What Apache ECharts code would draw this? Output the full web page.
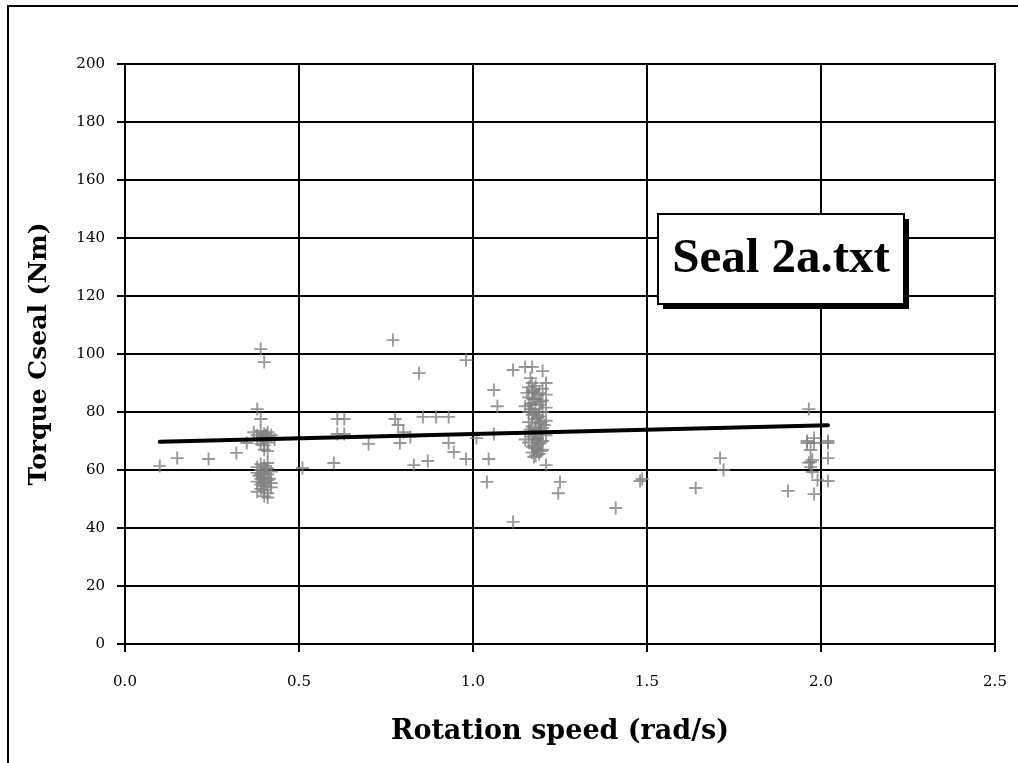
<!DOCTYPE html>
<html>
<head>
<meta charset="utf-8">
<script src="https://cdn.jsdelivr.net/npm/echarts@6/dist/echarts.min.js"></script>
<style>html,body{margin:0;padding:0;background:#fff}#c{width:1018px;height:763px}</style>
</head>
<body>
<div id="c"></div>
<script>
// Measured points: rotation speed (rad/s) and torque Cseal (Nm)
var speed = [
 0.10,0.15,0.24,0.32,0.35,
 0.39,0.40,0.38,0.39,0.37,0.38,0.39,0.40,0.41,0.42,0.38,0.39,0.40,0.41,0.43,0.39,0.40,0.41,0.40,0.41,
 0.41,0.39,0.40,0.38,0.41,0.39,0.40,0.42,0.38,0.39,0.41,0.40,0.39,0.41,0.40,0.38,0.42,0.39,0.40,0.42,
 0.39,0.40,0.38,0.41,0.40,0.41,0.395,0.405,0.385,0.395,0.405,0.415,
 0.51,0.60,0.61,0.63,0.61,0.63,0.70,0.77,0.776,0.785,0.79,0.80,0.82,0.83,0.845,0.856,0.87,0.894,0.93,0.93,
 0.945,0.98,0.98,1.01,1.04,1.045,1.06,1.06,1.07,1.115,1.115,
 1.15,1.17,1.20,1.165,1.17,1.155,
 1.16,1.18,1.20,1.17,1.19,1.21,1.16,1.18,1.20,1.17,1.19,1.15,1.21,1.18,1.16,1.20,1.17,1.19,1.18,1.21,
 1.16,1.19,1.17,1.20,1.18,1.16,1.19,1.21,1.17,1.18,1.20,1.16,1.19,1.17,1.18,1.20,1.17,1.19,1.18,1.175,
 1.15,1.21,
 1.175,1.185,1.195,1.165,1.175,1.185,1.195,1.205,1.165,1.175,1.185,1.195,1.175,1.185,1.195,1.165,1.185,1.175,1.195,1.185,
 1.21,1.25,1.245,
 1.41,1.48,1.486,1.64,1.71,1.72,1.905,
 1.965,1.96,1.98,1.96,1.98,2.02,2.02,1.97,1.97,1.975,1.965,2.02,1.975,1.99,2.02,1.98,1.97
];
var torque = [
 61.4,64.1,63.8,65.9,69.3,
 101.7,97.2,81.0,77.6,73.0,72.0,73.5,72.5,73.0,72.0,70.5,71.0,70.0,71.5,70.5,69.0,68.5,69.5,67.0,66.5,
 62.4,62.0,61.5,61.0,60.5,60.0,59.5,59.5,59.0,58.5,58.5,57.5,57.0,56.5,56.0,56.0,55.5,55.0,54.5,54.0,
 53.5,53.0,52.5,52.0,51.0,50.5,71.5,72.0,58.0,55.5,60.5,57.0,
 60.7,62.4,77.6,77.6,72.4,72.4,69.0,104.8,77.6,75.5,69.3,73.0,71.4,61.7,93.4,78.3,63.1,78.3,78.3,69.3,
 66.2,63.8,97.9,71.0,55.9,63.8,72.4,87.6,82.0,42.1,94.5,
 95.5,95.5,94.1,91.7,90.0,86.6,
 88.5,89.0,88.0,87.0,86.5,86.0,85.0,84.5,84.0,83.0,82.5,82.0,81.5,81.0,80.0,80.0,79.0,78.5,77.5,77.0,
 76.5,76.0,75.0,74.5,74.0,73.0,72.5,72.0,71.5,70.5,70.0,69.5,69.0,68.0,67.5,67.0,66.0,65.5,65.0,64.5,
 70.5,90.0,
 87.5,86.0,83.5,81.0,79.5,78.0,76.5,75.5,74.0,72.5,71.0,69.5,68.5,67.0,66.5,82.5,79.0,84.5,73.5,70.5,
 61.7,55.9,52.0,
 46.9,56.2,56.9,53.8,64.1,60.0,52.8,
 81.0,70.0,71.0,69.3,69.3,70.0,69.3,66.9,62.8,63.5,62.5,64.1,59.3,56.5,56.2,51.7,61.0
];
// Linear trend line end points
var trendX = [0.10, 2.02];
var trendY = [69.7, 75.4];
var chartLabel = 'Seal 2a.txt';

var scatterData = speed.map(function (x, i) { return [x, torque[i]]; });
var trendData = trendX.map(function (x, i) { return [x, trendY[i]]; });

var chart = echarts.init(document.getElementById('c'), null, {renderer: 'canvas'});
var plus = 'path://M6,0h2v6h6v2h-6v6h-2v-6h-6v-2h6z';
var serif = '"DejaVu Serif", serif';
chart.setOption({
  animation: false,
  backgroundColor: '#fff',
  grid: {left: 125, top: 64, right: 23, bottom: 119, show: true, borderColor: '#000', borderWidth: 2, backgroundColor: 'transparent'},
  xAxis: {
    type: 'value', min: 0, max: 2.5, interval: 0.5,
    name: 'Rotation speed (rad/s)', nameLocation: 'middle', nameGap: 74,
    nameTextStyle: {fontFamily: serif, fontWeight: 'bold', fontSize: 27, color: '#000'},
    axisLine: {show: true, lineStyle: {color: '#000', width: 2}},
    axisTick: {show: true, length: 8, lineStyle: {color: '#000', width: 2}},
    axisLabel: {margin: 31, fontFamily: serif, fontSize: 15, color: '#000',
      formatter: function (v) { return v.toFixed(1); }},
    splitLine: {show: true, lineStyle: {color: '#000', width: 2}}
  },
  yAxis: {
    type: 'value', min: 0, max: 200, interval: 20,
    name: 'Torque Cseal (Nm)', nameLocation: 'middle', nameGap: 73,
    nameTextStyle: {fontFamily: serif, fontWeight: 'bold', fontSize: 25, color: '#000'},
    axisLine: {show: true, lineStyle: {color: '#000', width: 2}},
    axisTick: {show: true, length: 8, lineStyle: {color: '#000', width: 2}},
    axisLabel: {margin: 20, fontFamily: serif, fontSize: 15, color: '#000'},
    splitLine: {show: true, lineStyle: {color: '#000', width: 2}}
  },
  graphic: [
    {type: 'rect', silent: true, z: -1, shape: {x: 8, y: 6, width: 1200, height: 1000},
      style: {fill: 'none', stroke: '#000', lineWidth: 2}},
    {type: 'rect', z: 10, shape: {x: 663, y: 219, width: 246, height: 90}, style: {fill: '#000'}},
    {type: 'rect', z: 11, shape: {x: 658, y: 214, width: 246, height: 90}, style: {fill: '#fff', stroke: '#000', lineWidth: 2}},
    {type: 'text', z: 12, x: 781, y: 259, style: {text: chartLabel, fill: '#000',
      font: 'bold 49px "Liberation Serif", serif', align: 'center', verticalAlign: 'middle'}}
  ],
  series: [
    {type: 'scatter', data: scatterData, symbol: plus, symbolSize: 13,
      itemStyle: {color: '#808080'}, z: 3},
    {type: 'line', data: trendData, symbol: 'none', z: 4,
      lineStyle: {color: '#000', width: 4, cap: 'round'}}
  ]
});
</script>
</body>
</html>
